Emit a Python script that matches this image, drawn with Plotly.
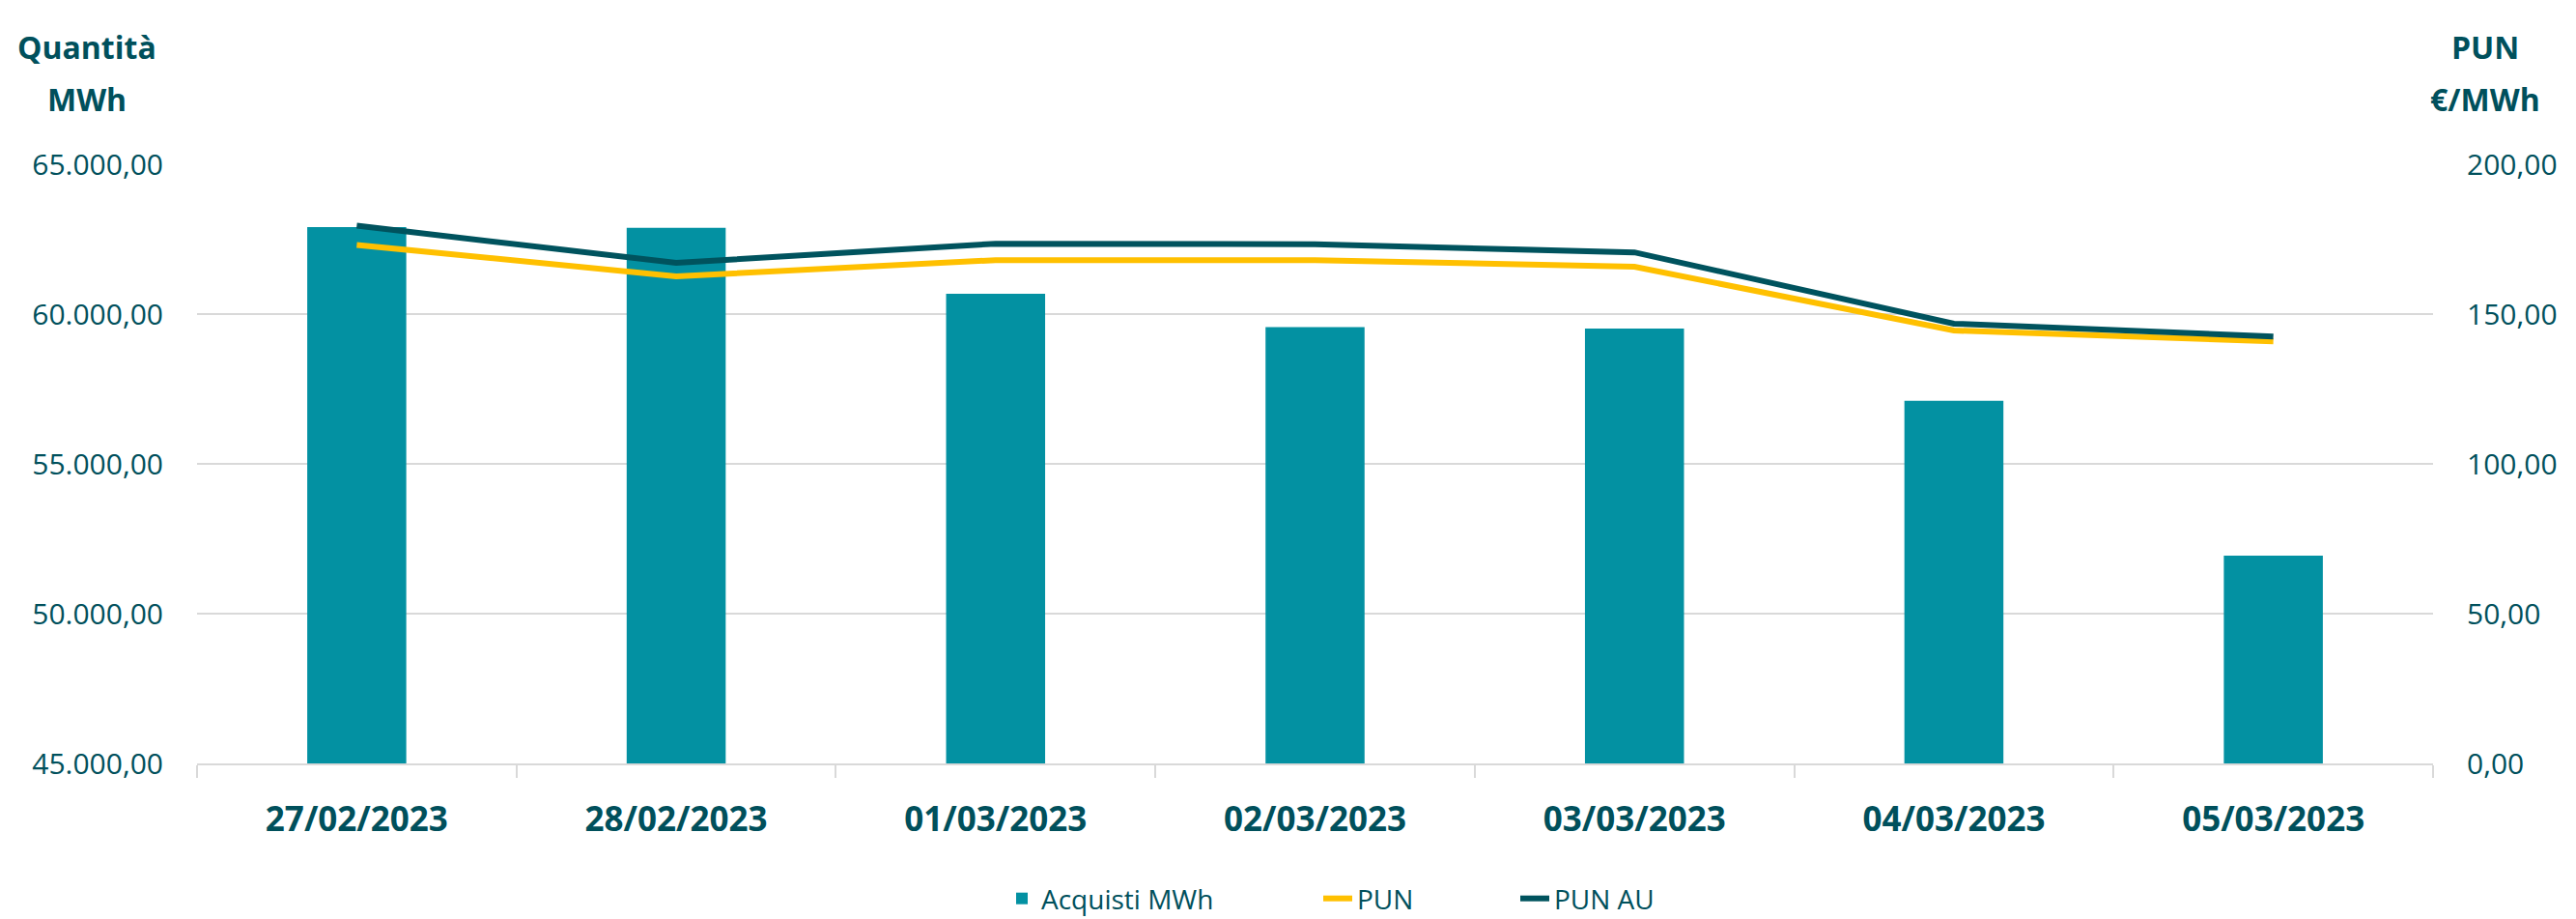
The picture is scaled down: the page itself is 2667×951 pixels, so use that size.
import plotly.graph_objects as go

dates = ["27/02/2023", "28/02/2023", "01/03/2023", "02/03/2023", "03/03/2023", "04/03/2023", "05/03/2023"]
acquisti_mwh = [62905, 62880, 60680, 59565, 59520, 57105, 51935]
pun = [173.1, 162.6, 168.0, 168.0, 165.8, 144.5, 140.9]
pun_au = [179.5, 167.1, 173.5, 173.3, 170.6, 146.8, 142.5]

TEXT = "#00505C"
GRID = "#D9D9D9"
FONT = "Open Sans"

W, H = 2667, 951
L, T = 204, 170
PLOT_RIGHT, PLOT_BOTTOM = 2519, 790
R, B = W - PLOT_RIGHT, H - PLOT_BOTTOM
PW = PLOT_RIGHT - L
PH = PLOT_BOTTOM - T

def px_x(p):  # screenshot pixel -> paper
    return (p - L) / PW

def px_y(p):
    return (PLOT_BOTTOM - p) / PH

fig = go.Figure()
fig.add_trace(go.Bar(x=dates, y=acquisti_mwh, name="Acquisti MWh",
                     marker=dict(color="#0391A2", line=dict(width=0)), yaxis="y",
                     legend="legend"))
fig.add_trace(go.Scatter(x=dates, y=pun, name="PUN", mode="lines",
                         line=dict(color="#FFC000", width=6), yaxis="y2",
                         legend="legend2"))
fig.add_trace(go.Scatter(x=dates, y=pun_au, name="PUN AU", mode="lines",
                         line=dict(color="#00535E", width=6), yaxis="y2",
                         legend="legend3"))

leg_common = dict(orientation="h", xanchor="left", yanchor="middle",
                  font=dict(size=28, color=TEXT, family=FONT), bgcolor="rgba(0,0,0,0)")

fig.update_layout(
    width=W, height=H,
    margin=dict(l=L, r=R, t=T, b=B, autoexpand=False),
    paper_bgcolor="white", plot_bgcolor="white",
    separators=",.",
    bargap=0.69,
    font=dict(family=FONT, color=TEXT, size=28),
    showlegend=True,
    legend=dict(x=px_x(1083 - 45), y=px_y(930), **leg_common),
    legend2=dict(x=px_x(1410 - 45), y=px_y(930), **leg_common),
    legend3=dict(x=px_x(1614 - 45), y=px_y(930), **leg_common),
    xaxis=dict(type="category", showline=True, linecolor=GRID, linewidth=2, automargin=False,
               ticks="outside", tickson="boundaries", ticklen=13, tickcolor=GRID, tickwidth=2,
               showgrid=False, tickfont=dict(size=35, color=TEXT, family=FONT, weight="bold"),
               ticklabelstandoff=26),
    yaxis=dict(range=[45000, 65000], dtick=5000, tickformat=",.2f", showgrid=True, automargin=False,
               gridcolor=GRID, gridwidth=2, zeroline=False, showline=False,
               tickfont=dict(size=30, color=TEXT), ticklabelstandoff=34),
    yaxis2=dict(range=[0, 200], dtick=50, tickformat=",.2f", overlaying="y", side="right",
                showgrid=False, zeroline=False, showline=False, automargin=False,
                tickfont=dict(size=30, color=TEXT), ticklabelstandoff=34),
)

def title(text, xpix, ypix):
    fig.add_annotation(text=f"<b>{text}</b>", xref="paper", yref="paper",
                       x=px_x(xpix), y=px_y(ypix), xanchor="center", yanchor="middle",
                       showarrow=False, font=dict(size=32, color=TEXT, family=FONT))

title("Quantità", 90, 48)
title("MWh", 90, 102)
title("PUN", 2573, 48)
title("€/MWh", 2573, 102)

fig.write_html("out.html", config={"displayModeBar": False},
               post_script="document.body.style.margin='0';document.body.style.overflow='hidden';")
